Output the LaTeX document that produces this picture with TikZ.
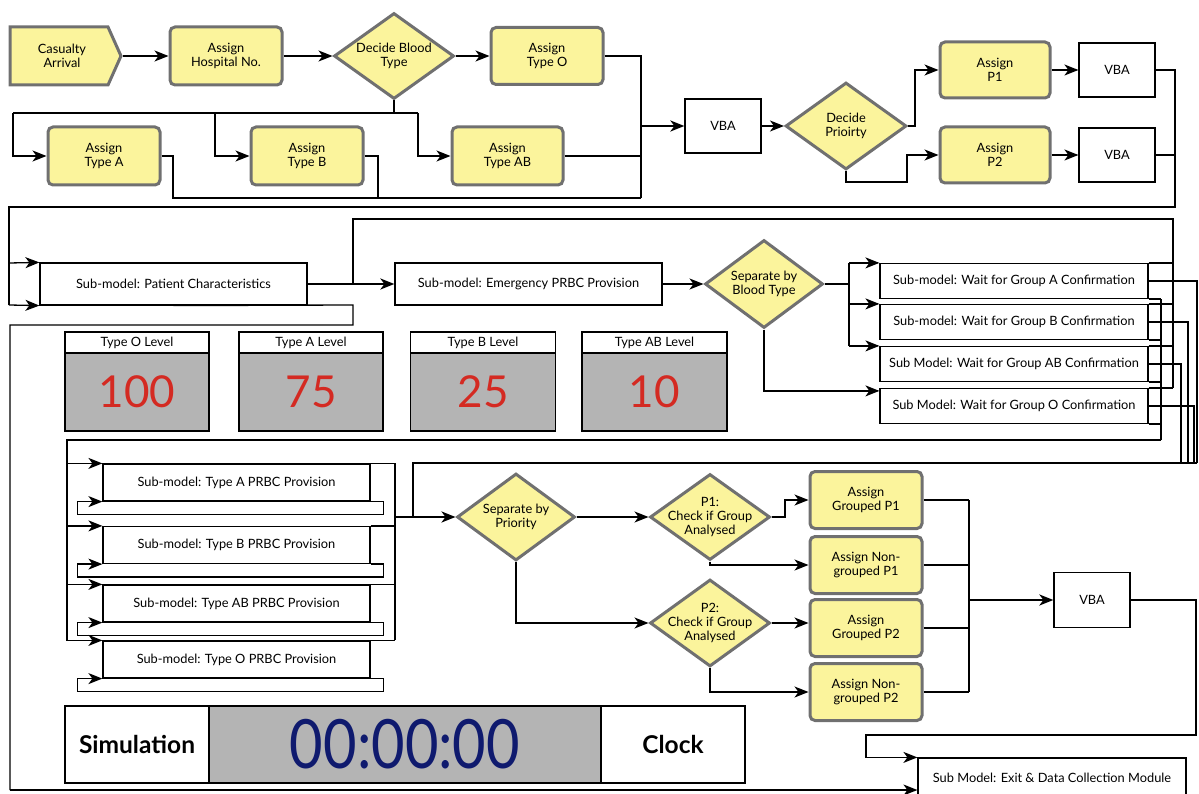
\documentclass[tikz,border=0pt]{standalone}
\usepackage{fontspec}
\usepackage{graphicx}
\setmainfont{Lato}
\usetikzlibrary{shapes.geometric,arrows.meta}
\definecolor{procfill}{HTML}{FBF49C}
\definecolor{procedge}{HTML}{707070}
\definecolor{dispgray}{HTML}{B4B4B4}
\definecolor{levelred}{HTML}{D42A22}
\definecolor{clocknavy}{HTML}{0F1A6E}
\begin{document}
\begin{tikzpicture}[x=1pt,y=-1pt,
  lbl/.style={font=\fontsize{12.8}{14}\selectfont, align=center, inner sep=0pt},
  sz/.style 2 args={minimum width=#1pt, minimum height=#2pt},
  proc/.style={lbl, draw=procedge, line width=3pt, fill=procfill, rounded corners=5pt},
  dec/.style={diamond, draw=procedge, line width=3pt, fill=procfill, inner sep=0pt},
  plain/.style={lbl, draw=black, line width=1.2pt, fill=white},
  ln/.style={line width=1.3pt},
  arr/.style={ln, -{Stealth[length=14pt,width=11pt,inset=4pt]}},
  heavy/.style={line width=2.4pt},
  bignum/.style={font=\fontsize{44}{44}\selectfont, text=levelred},
  clockword/.style={plain, sz={144}{77}, font=\fontsize{24.5}{25}\selectfont\bfseries},
]
\useasboundingbox (0,0) rectangle (1199,794);

% ---------- blood type assignment ----------
\draw[draw=procedge, line width=3pt, fill=procfill]
  (10,27) -- (108,27) -- (121,56) -- (108,85) -- (10,85) -- cycle;
\node[lbl] (cas) at (62,56) {Casualty\\Arrival};
\coordinate (castip) at (123,56);
\node[proc, sz={112}{58}] (hosp) at (226,56) {Assign\\Hospital No.};
\node[dec, sz={120}{86}] (dbt) at (394,56) {};
\node[lbl] (dbtt) at (dbt) {Decide Blood\\Type};
\node[proc, sz={112}{57}] (to) at (547,56) {Assign\\Type O};
\node[proc, sz={112}{58}] (ta) at (104,156) {Assign\\Type A};
\node[proc, sz={112}{58}] (tb) at (307,156) {Assign\\Type B};
\node[proc, sz={111}{58}] (tab) at (507.5,156) {Assign\\Type AB};
\node[plain, sz={76}{54}] (vba1) at (723,126) {VBA};
\node[dec, sz={121}{87}] (dp) at (846,126) {};
\node[lbl] (dpt) at (dp) {Decide\\Prioirty};
\node[proc, sz={110}{56}] (p1) at (995,70) {Assign\\P1};
\node[proc, sz={110}{56}] (p2) at (995,155) {Assign\\P2};
\node[plain, sz={76}{54}] (vba2) at (1117,70) {VBA};
\node[plain, sz={76}{54}] (vba3) at (1117,155) {VBA};

\draw[arr] (castip) -- (hosp.west);
\draw[arr] (hosp.east) -- (dbt.west);
\draw[arr] (dbt.east) -- (to.west);
\draw[ln] (to.east) -| (641,198);
\draw[ln] (dbt.south) -- (394,113);
\draw[ln] (13,113) -- (418,113);
\draw[arr] (13,113) |- (ta.west);
\draw[arr] (215,113) |- (tb.west);
\draw[arr] (418,113) |- (tab.west);
\draw[ln] (ta.east) -| (173,198) -- (641,198);
\draw[ln] (tb.east) -| (378,198);
\draw[ln] (tab.east) -- (641,156);
\draw[arr,heavy] (641,126) -- (vba1.west);
\draw[arr] (vba1.east) -- (dp.west);
\draw[arr] (dp.east) -- (915,126) |- (p1.west);
\draw[arr] (dp.south) |- (907,182) |- (p2.west);
\draw[arr] (p1.east) -- (vba2.west);
\draw[arr] (p2.east) -- (vba3.west);
\draw[ln] (vba2.east) -| (1175,207) -- (9,207) -- (9,305);
\draw[ln] (vba3.east) -- (1175,155);

% ---------- sub-models ----------
\node[plain, sz={267}{42}] (pc) at (173.5,284) {Sub-model: Patient Characteristics};
\node[plain, sz={267}{42}] (em) at (528.5,284) {Sub-model: Emergency PRBC Provision};
\node[dec, sz={118}{88}] (sbt) at (764,284) {};
\node[lbl] (sbtt) at (sbt) {Separate by\\Blood Type};
\node[plain, sz={268}{35}] (wa) at (1014,281) {Sub-model: Wait for Group A Confirmation};
\node[plain, sz={268}{35}] (wb) at (1014,322) {Sub-model: Wait for Group B Confirmation};
\node[plain, sz={268}{35}] (wab) at (1014,364) {Sub Model: Wait for Group AB Confirmation};
\node[plain, sz={268}{35}] (wo) at (1014,406) {Sub Model: Wait for Group O Confirmation};

\draw[arr] (9,263) -- (pc.north west);
\draw[arr] (9,305) -- (pc.south west);
\draw[ln] (pc.east) -- (353,284);
\draw[arr,heavy] (353,284) -- (em.west);
\draw[ln,heavy] (353,284) -- (353,219) -- (1173,219) -- (wo.north east -| 1173,0);
\draw[ln] (pc.south) -- (353,305) -- (353,325) -- (10,325) -- (10,790);
\draw[arr] (em.east) -- (sbt.west);
\draw[ln] (sbt.east) -- (849,284);
\draw[ln] (wa.north west -| 849,0) -- (wab.north west -| 849,0);
\draw[arr] (wa.north west -| 849,0) -- (wa.north west);
\draw[arr] (wb.north west -| 849,0) -- (wb.north west);
\draw[arr] (wab.north west -| 849,0) -- (wab.north west);
\draw[arr] (sbt.south) |- ([yshift=-3pt]wo.north west);

\foreach \w/\m in {wa/1197, wb/1188, wab/1181, wo/1194}{
  \draw[ln] (\w.north east) -- (\w.north east -| 1173,0);
  \draw[ln] (\w.south east) -- (\w.south east -| 1161,0);
  \draw[ln] (\w.east) -| (\m,463);
}
\draw[ln] (wa.south east -| 1161,0) -- (1161,440);
\draw[ln,heavy] (1161,440) -- (67,440) -- (67,641);
\draw[ln,heavy] (1197,463) -- (413,463) -- (413,517);

% ---------- stock level displays ----------
\node[plain, sz={144}{21}] (hO) at (137,342.5) {Type O Level};
\node[plain, bignum, fill=dispgray, sz={144}{78}] (vO) at (137,392) {100};
\node[plain, sz={144}{21}] (hA) at (311,342.5) {Type A Level};
\node[plain, bignum, fill=dispgray, sz={144}{78}] (vA) at (311,392) {75};
\node[plain, sz={145}{21}] (hB) at (483,342.5) {Type B Level};
\node[plain, bignum, fill=dispgray, sz={145}{78}] (vB) at (483,392) {25};
\node[plain, sz={145}{21}] (hAB) at (654.5,342.5) {Type AB Level};
\node[plain, bignum, fill=dispgray, sz={145}{78}] (vAB) at (654.5,392) {10};

% ---------- PRBC provision ----------
\node[plain, sz={267}{37}] (pa) at (236.5,482.5) {Sub-model: Type A PRBC Provision};
\node[plain, sz={267}{37}] (pb) at (236.5,545) {Sub-model: Type B PRBC Provision};
\node[plain, sz={267}{37}] (pab) at (236.5,603.5) {Sub-model: Type AB PRBC Provision};
\node[plain, sz={267}{37}] (po) at (236.5,659.5) {Sub-model: Type O PRBC Provision};

\foreach \p in {pa,pb,pab,po}{
  \draw[arr] (\p.north west -| 67,0) -- (\p.north west);
  \draw[ln] (\p.north east) -- (\p.north east -| 395,0);
  \draw[arr] (\p.south east) -- ++(13,0) -- ++(0,13) -- ++(-306,0) -- ++(0,-13) -- (\p.south west);
}
\draw[ln] (pa.north east -| 395,0) -- (po.north east -| 395,0);

% ---------- priority handling ----------
\node[dec, sz={118}{87}] (spr) at (516,517) {};
\node[lbl] (sprt) at (spr) {Separate by\\Priority};
\node[dec, sz={120}{86}] (c1) at (710,517) {};
\node[lbl] (c1t) at (c1) {P1:\\Check if Group\\Analysed};
\node[dec, sz={120}{87}] (c2) at (710,623) {};
\node[lbl] (c2t) at (c2) {P2:\\Check if Group\\Analysed};
\node[proc, sz={112}{57}] (g1) at (866,500) {Assign\\Grouped P1};
\node[proc, sz={112}{57}] (n1) at (866,565) {Assign Non-\\grouped P1};
\node[proc, sz={112}{57}] (g2) at (866,628) {Assign\\Grouped P2};
\node[proc, sz={112}{57}] (n2) at (866,692) {Assign Non-\\grouped P2};
\node[plain, sz={76}{55}] (vba4) at (1092,600) {VBA};
\node[plain, sz={268}{40}] (ex) at (1052,778) {Sub Model: Exit \& Data Collection Module};

\draw[arr,heavy] (395,517) -- (spr.west);
\draw[arr] (spr.east) -- (c1.west);
\draw[arr] (spr.south) |- (c2.west);
\draw[arr] (c1.east) -- (785,517) |- (g1.west);
\draw[arr] (c1.south) |- (n1.west);
\draw[arr] (c2.east) -- (g2.west |- c2.east);
\draw[arr] (c2.south) |- (n2.west);
\draw[ln] (g1.east) -- (969,500);
\draw[ln] (n1.east) -- (969,565);
\draw[ln] (g2.east) -- (969,628);
\draw[ln] (n2.east) -- (969,692);
\draw[ln] (969,500) -- (969,692);
\draw[arr,heavy] (969,600) -- (vba4.west);
\draw[arr] (vba4.east) -- (1196,600) -- (1196,735) -- (866,735) |- (ex.north west);
\draw[arr] (10,790) -- (ex.west |- 0,790);

% ---------- simulation clock ----------
\node[clockword] (simlbl) at (137,744.5) {Simulation};
\node[plain, fill=dispgray, sz={392}{77}, text=clocknavy, font=\fontsize{68}{68}\selectfont] (clk) at (405,744.5) {\scalebox{0.85}[1]{00:00:00}};
\node[clockword] (clklbl) at (673,744.5) {Clock};
\end{tikzpicture}
\end{document}
